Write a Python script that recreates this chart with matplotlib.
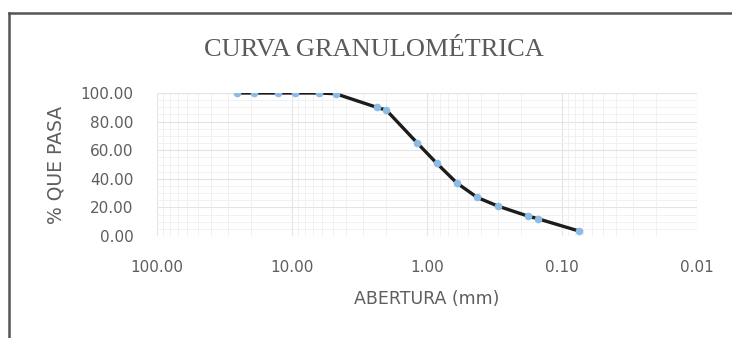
import numpy as np
import matplotlib
matplotlib.use("Agg")
import matplotlib.pyplot as plt
from matplotlib.lines import Line2D
import matplotlib.ticker as mticker

# Datos (abertura de tamiz en mm, % que pasa)
abertura = [25.4, 19.05, 12.7, 9.525, 6.35, 4.75, 2.36, 2.0, 1.18,
            0.85, 0.6, 0.425, 0.3, 0.18, 0.15, 0.075]
pasa = [100.0, 100.0, 100.0, 100.0, 100.0, 99.5, 90.0, 88.0, 65.0,
        51.0, 37.0, 27.0, 21.0, 14.0, 12.0, 3.5]

x_ticks = [100, 10, 1, 0.1, 0.01]
x_ticklabels = ["100.00", "10.00", "1.00", "0.10", "0.01"]
y_ticks = [0, 20, 40, 60, 80, 100]
y_ticklabels = ["0.00", "20.00", "40.00", "60.00", "80.00", "100.00"]

GRAY = "#5e5e5e"

fig = plt.figure(figsize=(7.32, 3.38), dpi=100, facecolor="white")
ax = fig.add_axes([157 / 732, 1 - 236 / 338, (697 - 157) / 732, (236 - 93) / 338])

ax.plot(abertura, pasa, color="#1c1c1c", lw=2.4, zorder=3,
        solid_joinstyle="round")
ax.plot(abertura, pasa, ls="none", marker="o", ms=4.5,
        mfc="#8cbbe6", mec="#8cbbe6", zorder=4)

ax.set_xscale("log")
ax.set_xlim(100, 0.01)
ax.set_ylim(0, 100)

ax.set_xticks(x_ticks)
ax.set_xticklabels(x_ticklabels)
ax.xaxis.set_minor_locator(mticker.LogLocator(base=10, subs=np.arange(2, 10)))
ax.xaxis.set_minor_formatter(mticker.NullFormatter())
ax.set_yticks(y_ticks)
ax.set_yticklabels(y_ticklabels)
ax.yaxis.set_minor_locator(mticker.MultipleLocator(5))

ax.grid(which="major", color="#e4e4e4", lw=0.8)
ax.grid(which="minor", color="#efefef", lw=0.6)
ax.set_axisbelow(True)
for s in ax.spines.values():
    s.set_visible(False)

ax.tick_params(axis="both", which="both", length=0, labelsize=11, labelcolor=GRAY)
ax.tick_params(axis="x", pad=17)
ax.tick_params(axis="y", pad=17)

ax.set_xlabel("ABERTURA (mm)", fontsize=12.5, color=GRAY, labelpad=11)
ax.set_ylabel("% QUE PASA", fontsize=13.5, color=GRAY, labelpad=11)

fig.text(374 / 732, 1 - 50 / 338, "CURVA GRANULOMÉTRICA",
         family="Liberation Serif", fontsize=19, color="#5a5a5a",
         ha="center", va="center")

# marco del gráfico
fig.add_artist(Line2D([9 / 732, 1.0], [1 - 13 / 338, 1 - 13 / 338],
                      color="#555555", lw=1.8))
fig.add_artist(Line2D([9 / 732, 9 / 732], [0, 1 - 13 / 338],
                      color="#555555", lw=1.8))

plt.savefig("out.png", dpi=100)
